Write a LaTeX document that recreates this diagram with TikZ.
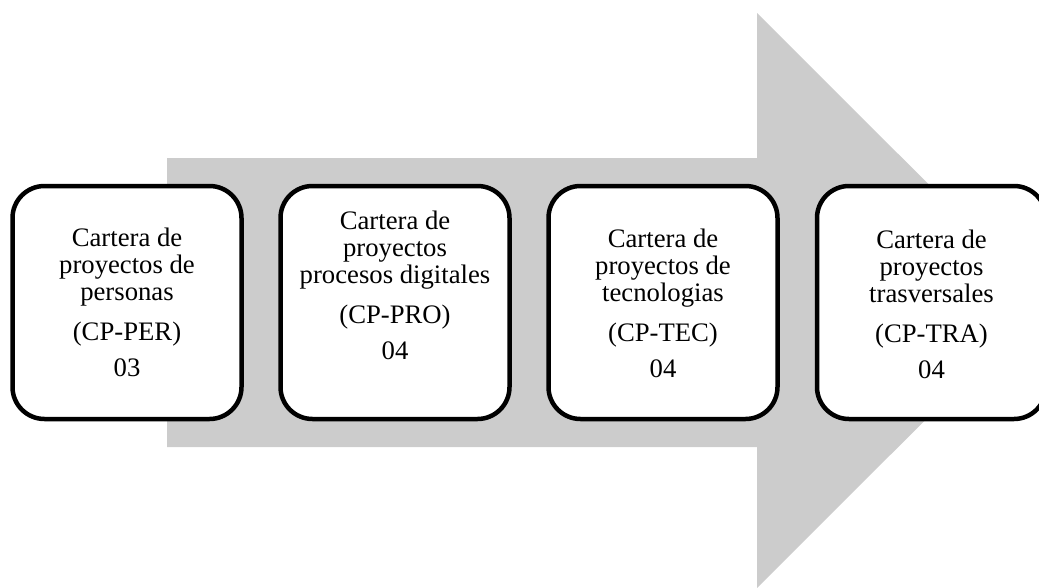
\documentclass[tikz,border=0pt]{standalone}
\usepackage{fontspec}
\setmainfont{Liberation Serif}
\definecolor{arrowgray}{RGB}{204,204,204}
\begin{document}
\begin{tikzpicture}[x=1pt,y=-1pt,
  cardbox/.style={draw=black, line width=4.5pt, fill=white, rounded corners=32pt,
    minimum width=229pt, minimum height=233pt, inner sep=0pt, outer sep=0pt},
  cardtext/.style={anchor=base, inner sep=0pt, outer sep=0pt, text=black}]
\useasboundingbox (0,0) rectangle (1039,587);
\clip (0,0) rectangle (1039,587);
\newcommand{\cardlines}[5]{\parbox[t]{225pt}{\centering\fontsize{26.7}{27}\selectfont #1\\#2\\#3\\[13.5pt]#4\\[9pt]#5}}
% big arrow
\coordinate (a1) at (167,158);
\coordinate (a2) at (757,158);
\coordinate (a3) at (757,13);
\coordinate (a4) at (1045,300.5);
\coordinate (a5) at (757,588);
\coordinate (a6) at (757,447);
\coordinate (a7) at (167,447);
\fill[arrowgray] (a1) -- (a2) -- (a3) -- (a4) -- (a5) -- (a6) -- (a7) -- cycle;
% boxes
\node[cardbox] (b1) at (127,302.5) {};
\node[cardbox] (b2) at (395,302.5) {};
\node[cardbox] (b3) at (663,302.5) {};
\node[cardbox] (b4) at (931.5,302.5) {};
% texts
\node[cardtext] (t1) at (127,246) {\cardlines{Cartera de}{proyectos de}{personas}{(CP-PER)}{03}};
\node[cardtext] (t2) at (395,229) {\cardlines{Cartera de}{proyectos}{procesos digitales}{(CP-PRO)}{04}};
\node[cardtext] (t3) at (663,247) {\cardlines{Cartera de}{proyectos de}{tecnologias}{(CP-TEC)}{04}};
\node[cardtext] (t4) at (931.5,248) {\cardlines{Cartera de}{proyectos}{trasversales}{(CP-TRA)}{04}};
\end{tikzpicture}
\end{document}
